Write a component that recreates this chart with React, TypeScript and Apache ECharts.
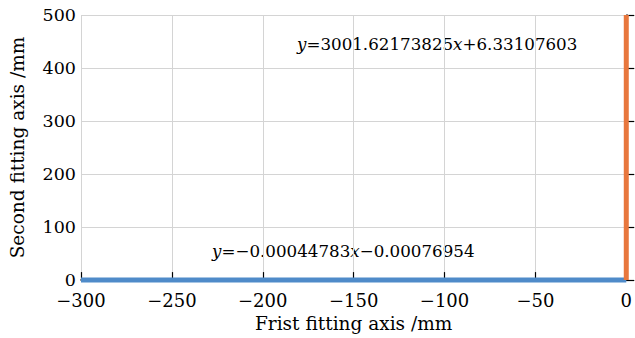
import React, { useEffect, useRef } from "react";
import * as echarts from "echarts";

const xTicks = [-300, -250, -200, -150, -100, -50, 0];
const yTicks = [0, 100, 200, 300, 400, 500];
const firstFit: [number, number][] = [[-300, 0.13], [0, 0]];
const secondFit: [number, number][] = [[0, 0], [0, 500]];
const eqSecond = "{i|y}=3001.62173825{i|x}+6.33107603";
const eqFirst = "{i|y}=\u22120.00044783{i|x}\u22120.00076954";
const xTitle = "Frist fitting axis /mm";
const yTitle = "Second fitting axis /mm";

const FONT = "DejaVu Serif";

export default function App() {
  const ref = useRef<HTMLDivElement>(null);
  useEffect(() => {
    document.body.style.margin = "0";
    const chart = echarts.init(ref.current!, null, { renderer: "svg" });
    const fmt = (v: number) => (v < 0 ? "\u2212" + Math.abs(v) : String(v));
    chart.setOption({
      animation: false,
      backgroundColor: "#ffffff",
      grid: { left: 76, right: 7, top: 15, bottom: 57 },
      xAxis: {
        type: "value",
        min: xTicks[0],
        max: xTicks[xTicks.length - 1],
        interval: 50,
        name: xTitle,
        nameLocation: "middle",
        nameGap: 31,
        nameTextStyle: { fontFamily: FONT, fontSize: 18.5, color: "#000" },
        axisLine: { onZero: false, lineStyle: { color: "#000", width: 1.5 } },
        axisTick: { inside: true, length: 8, lineStyle: { color: "#000", width: 1.2 } },
        axisLabel: { formatter: fmt, fontFamily: FONT, fontSize: 18, color: "#000", margin: 11 },
        splitLine: { show: true, lineStyle: { color: "#d4d4d4", width: 1 } },
      },
      yAxis: {
        type: "value",
        min: yTicks[0],
        max: yTicks[yTicks.length - 1],
        interval: 100,
        name: yTitle,
        nameLocation: "middle",
        nameGap: 54,
        nameTextStyle: { fontFamily: FONT, fontSize: 18.5, color: "#000" },
        axisLine: { show: true, lineStyle: { color: "#000", width: 1.5 } },
        axisTick: { show: true, inside: true, length: 8, lineStyle: { color: "#000", width: 1.2 } },
        axisLabel: { fontFamily: FONT, fontSize: 17.5, color: "#000", margin: 5 },
        splitLine: { show: true, lineStyle: { color: "#d4d4d4", width: 1 } },
      },
      series: [
        {
          type: "line",
          data: firstFit,
          showSymbol: false,
          clip: false,
          lineStyle: { color: "#4f8bc9", width: 5 },
          z: 3,
        },
        {
          type: "line",
          data: secondFit,
          showSymbol: false,
          clip: false,
          lineStyle: { color: "#e8773d", width: 5 },
          z: 4,
        },
      ],
      graphic: [
        {
          type: "text",
          left: 297,
          top: 35,
          style: {
            text: eqSecond,
            fontFamily: FONT,
            fontSize: 16.7,
            fill: "#000",
            rich: { i: { fontStyle: "italic", fontFamily: FONT, fontSize: 16.7 } },
          },
        },
        {
          type: "text",
          left: 212,
          top: 242,
          style: {
            text: eqFirst,
            fontFamily: FONT,
            fontSize: 16.7,
            fill: "#000",
            rich: { i: { fontStyle: "italic", fontFamily: FONT, fontSize: 16.7 } },
          },
        },
      ],
    });
    return () => chart.dispose();
  }, []);
  return (
    <div
      ref={ref}
      style={{ position: "absolute", left: 0, top: 0, width: 635, height: 338 }}
    />
  );
}
